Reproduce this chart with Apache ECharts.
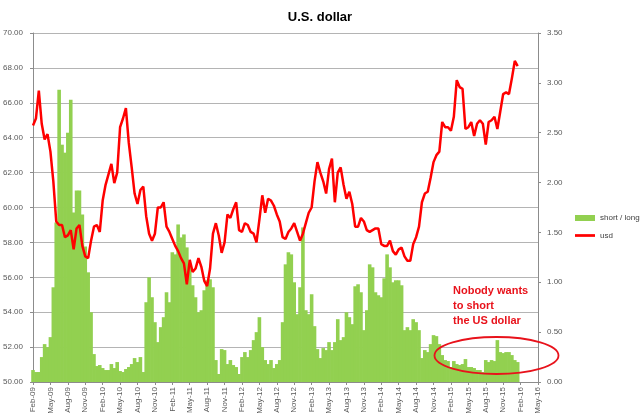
<!DOCTYPE html>
<html>
<head>
<meta charset="utf-8">
<script src="https://cdn.jsdelivr.net/npm/echarts@6/dist/echarts.min.js"></script>
<style>
  html, body { margin: 0; padding: 0; background: #fff; }
  #chart { width: 640px; height: 419px; }
</style>
</head>
<body>
<div id="chart"></div>
<script>
// 横轴刻度 (每三个月一个)
const tickLabels = ['Feb-09', 'May-09', 'Aug-09', 'Nov-09', 'Feb-10', 'May-10', 'Aug-10', 'Nov-10',
  'Feb-11', 'May-11', 'Aug-11', 'Nov-11', 'Feb-12', 'May-12', 'Aug-12', 'Nov-12',
  'Feb-13', 'May-13', 'Aug-13', 'Nov-13', 'Feb-14', 'May-14', 'Aug-14', 'Nov-14',
  'Feb-15', 'May-15', 'Aug-15', 'Nov-15', 'Feb-16', 'May-16'];

// 数据每半个月一个点, 从 Feb-09 开始 (单位: 月)
const stepMonths = 0.5;

// short / long 比值 (右轴)
const shortLong = [
  0.12, 0.10, 0.10, 0.25, 0.38, 0.35, 0.45, 0.95, 1.60, 2.93,
  2.38, 2.30, 2.50, 2.83, 1.70, 1.92, 1.92, 1.68, 1.36, 1.10,
  0.70, 0.28, 0.16, 0.17, 0.14, 0.12, 0.12, 0.18, 0.14, 0.20,
  0.11, 0.10, 0.13, 0.15, 0.18, 0.24, 0.20, 0.25, 0.10, 0.80,
  1.05, 0.85, 0.60, 0.40, 0.55, 0.65, 0.90, 0.80, 1.30, 1.28,
  1.58, 1.45, 1.48, 1.35, 1.15, 0.97, 0.85, 0.70, 0.72, 0.92,
  1.02, 1.03, 0.95, 0.22, 0.08, 0.33, 0.32, 0.18, 0.22, 0.17,
  0.15, 0.08, 0.25, 0.30, 0.25, 0.32, 0.42, 0.50, 0.65, 0.35,
  0.22, 0.18, 0.22, 0.14, 0.18, 0.22, 0.60, 1.18, 1.30, 1.28,
  1.00, 0.68, 0.95, 1.55, 0.72, 0.68, 0.88, 0.56, 0.33, 0.24,
  0.34, 0.32, 0.40, 0.32, 0.40, 0.63, 0.42, 0.45, 0.70, 0.65,
  0.58, 0.96, 0.98, 0.90, 0.52, 0.72, 1.18, 1.15, 0.90, 0.87,
  0.85, 1.04, 1.28, 1.15, 1.00, 1.02, 1.02, 0.97, 0.52, 0.55,
  0.52, 0.63, 0.60, 0.52, 0.24, 0.32, 0.30, 0.38, 0.47, 0.46,
  0.38, 0.27, 0.22, 0.21, 0.15, 0.21, 0.18, 0.17, 0.18, 0.23,
  0.15, 0.15, 0.14, 0.12, 0.12, 0.10, 0.22, 0.20, 0.22, 0.21,
  0.42, 0.30, 0.29, 0.30, 0.30, 0.27, 0.22, 0.20
];

// usd 指数 (左轴)
const usd = [
  64.7, 65.1, 66.7, 64.8, 63.9, 64.2, 63.2, 61.5, 59.2, 59.0,
  59.0, 58.3, 58.4, 58.7, 57.6, 58.8, 59.0, 57.8, 57.2, 57.1,
  58.1, 58.9, 59.0, 58.6, 60.4, 61.3, 61.9, 62.5, 61.4, 62.0,
  64.6, 65.1, 65.7, 63.7, 62.3, 60.8, 60.2, 61.0, 61.2, 59.5,
  58.5, 58.1, 58.5, 60.0, 60.0, 60.3, 58.9, 58.6, 58.2, 57.8,
  57.5, 57.1, 56.8, 55.6, 57.0, 56.3, 56.5, 57.1, 56.6, 55.8,
  55.5, 56.5, 58.5, 59.1, 58.4, 57.4, 58.0, 59.6, 59.4, 59.9,
  60.3, 58.7, 58.6, 59.1, 59.0, 58.6, 58.5, 58.0, 59.3, 60.7,
  59.7, 60.5, 60.4, 60.1, 59.6, 59.2, 58.3, 58.2, 58.6, 58.8,
  59.1, 58.6, 58.1, 58.5, 59.1, 59.7, 60.0, 61.5, 62.6, 62.0,
  61.5, 60.8, 62.2, 62.8, 60.3, 62.0, 62.3, 61.3, 60.5, 60.9,
  60.2, 58.9, 58.9, 59.4, 59.2, 58.7, 58.6, 58.7, 58.8, 58.8,
  57.9, 57.8, 57.8, 58.1, 57.5, 57.3, 57.6, 57.7, 57.2, 56.95,
  56.95, 57.9, 58.3, 58.9, 60.3, 60.8, 60.9, 61.7, 62.6, 63.0,
  63.2, 64.9, 64.6, 64.6, 64.4, 65.2, 67.3, 66.9, 66.8, 64.5,
  64.6, 64.9, 64.1, 64.8, 65.0, 64.8, 63.6, 64.9, 65.0, 65.2,
  64.5, 65.5, 66.5, 66.6, 66.5, 67.4, 68.4, 68.1
];

const font = 'Liberation Sans';
const labelColor = '#595959';
const gridColor = '#b4b4b4';
const axisColor = '#8c8c8c';

let barData = shortLong.map((v, i) => [i * stepMonths, v]);
let lineData = usd.map((v, i) => [i * stepMonths, v]);

let option = {
  animation: false,
  backgroundColor: '#fff',
  textStyle: { fontFamily: font },
  title: {
    text: 'U.S. dollar',
    left: 'center',
    top: 6,
    textStyle: { fontFamily: font, fontSize: 13, fontWeight: 'bold', color: '#000' }
  },
  legend: {
    orient: 'vertical',
    left: 570,
    top: 209,
    itemWidth: 20,
    itemHeight: 6,
    itemGap: 9.5,
    textStyle: { fontFamily: font, fontSize: 8, color: '#404040' },
    data: [
      { name: 'short / long', icon: 'rect' },
      { name: 'usd', icon: 'path://M0,0H19V2.6H0Z' }
    ]
  },
  grid: { left: 32, right: 102, top: 33, bottom: 37, containLabel: false },
  xAxis: {
    type: 'value',
    min: 0,
    max: 87,
    interval: 3,
    splitLine: { show: false },
    axisLine: { show: true, lineStyle: { color: axisColor } },
    axisTick: { show: true, length: 3, lineStyle: { color: axisColor } },
    axisLabel: {
      rotate: 90,
      margin: 5,
      fontSize: 8,
      color: labelColor,
      fontFamily: font,
      formatter: v => tickLabels[Math.round(v / 3)] || ''
    }
  },
  yAxis: [
    {
      type: 'value',
      min: 50,
      max: 70,
      interval: 2,
      position: 'left',
      axisLine: { show: true, lineStyle: { color: axisColor } },
      axisTick: { show: true, length: 3, lineStyle: { color: axisColor } },
      splitLine: { show: true, lineStyle: { color: gridColor, width: 1 } },
      axisLabel: { margin: 10, fontSize: 8, color: labelColor, fontFamily: font, formatter: v => v.toFixed(2) }
    },
    {
      type: 'value',
      min: 0,
      max: 3.5,
      interval: 0.5,
      position: 'right',
      axisLine: { show: true, lineStyle: { color: axisColor } },
      axisTick: { show: true, length: 3, lineStyle: { color: axisColor } },
      splitLine: { show: false },
      axisLabel: { margin: 9, fontSize: 8, color: labelColor, fontFamily: font, formatter: v => v.toFixed(2) }
    }
  ],
  series: [
    {
      name: 'short / long',
      type: 'bar',
      yAxisIndex: 1,
      data: barData,
      barWidth: 3.6,
      itemStyle: { color: '#92d050' },
      z: 2
    },
    {
      name: 'usd',
      type: 'line',
      yAxisIndex: 0,
      data: lineData,
      symbol: 'none',
      lineStyle: { color: '#ff0000', width: 2.5 },
      itemStyle: { color: '#ff0000' },
      z: 3
    }
  ],
  graphic: [
    {
      type: 'text',
      left: 453,
      top: 283,
      style: {
        text: 'Nobody wants\nto short\nthe US dollar',
        fill: '#e8121b',
        font: 'bold 11px "Liberation Sans"',
        lineHeight: 15
      }
    },
    {
      type: 'ellipse',
      shape: { cx: 496.5, cy: 355.5, rx: 62, ry: 18.5 },
      style: { fill: 'none', stroke: '#e8121b', lineWidth: 1.8 },
      z: 10
    }
  ]
};

let chart = echarts.init(document.getElementById('chart'));
chart.setOption(option, true);
</script>
</body>
</html>
